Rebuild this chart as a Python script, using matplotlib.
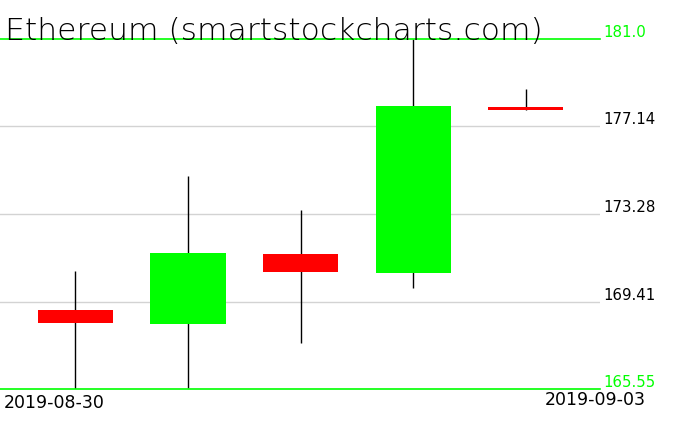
import matplotlib
matplotlib.use("Agg")
import matplotlib.pyplot as plt

# OHLC data
dates = ["2019-08-30", "2019-08-31", "2019-09-01", "2019-09-02", "2019-09-03"]
opens = [169.04, 168.42, 171.51, 170.67, 178.00]
highs = [170.76, 174.95, 173.45, 181.00, 178.79]
lows = [165.55, 165.59, 167.58, 170.01, 177.88]
closes = [168.46, 171.55, 170.71, 178.04, 177.88]

y_min, y_max = 165.55, 181.0
grid_levels = [177.14, 173.28, 169.41]

W, H = 676, 431
fig = plt.figure(figsize=(W / 100, H / 100), dpi=100)
ax = fig.add_axes([0, 1 - 390 / H, 600 / W, 350 / H])
ax.set_xlim(-0.67, 4.66)
ax.set_ylim(y_min, y_max)
ax.axis("off")

# grid lines and bounds
for lvl in grid_levels:
    ax.axhline(lvl, color="#d3d3d3", lw=1, zorder=0)
for lvl in (y_min, y_max):
    ax.axhline(lvl, color="#00ff00", lw=1.2, zorder=3, clip_on=False)

x = list(range(len(dates)))
for i in x:
    ax.vlines(i, lows[i], highs[i], color="black", lw=1, zorder=1)
    up = closes[i] >= opens[i]
    bottom = min(opens[i], closes[i])
    h = max(abs(closes[i] - opens[i]), 0.12)
    ax.bar(i, h, bottom=bottom, width=0.667, color="#00ff00" if up else "#ff0000",
           zorder=2, linewidth=0)

# right-side price labels
lab_kw = dict(transform=ax.get_yaxis_transform(), fontsize=10.8, va="bottom", ha="left",
              clip_on=False)
ax.text(1.005, y_max, "181.0", color="#00ff00", **lab_kw)
for lvl in grid_levels:
    ax.text(1.005, lvl, f"{lvl:.2f}", color="black", **lab_kw)
ax.text(1.005, y_min, "165.55", color="#00ff00", **lab_kw)

# date labels
fig.text(4 / W, 1 - 394 / H, dates[0], fontsize=12.5, va="top", ha="left")
fig.text(646 / W, 1 - 391 / H, dates[-1], fontsize=12.5, va="top", ha="right")

# title
fig.text(5 / W, 1 - 40 / H, "Ethereum (smartstockcharts.com)", fontsize=22.6,
         fontweight="ultralight", color="black", va="baseline", ha="left")

fig.savefig("out.png", dpi=100)
